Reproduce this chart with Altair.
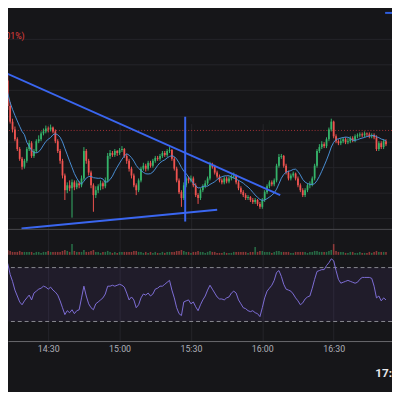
import altair as alt
import pandas as pd
import numpy as np

# ---------------- data ----------------
# 1-minute candles starting 14:12
first_open = 2011.4
close = [2016.2, 2013.6, 2012.0, 2011.2, 2010.2, 2009.2, 2008.2, 2007.4, 2008.0, 2009.2,
         2009.8, 2008.5, 2009.0, 2010.0, 2010.2, 2010.8, 2011.0, 2011.3, 2011.2, 2011.4,
         2011.0, 2010.0, 2009.0, 2008.0, 2006.5, 2005.0, 2005.5, 2005.2, 2005.8, 2005.3,
         2005.7, 2005.5, 2006.2, 2009.0, 2008.0, 2006.8, 2005.5, 2004.5, 2005.0, 2005.4,
         2005.7, 2005.4, 2006.0, 2008.5, 2008.8, 2008.6, 2009.0, 2008.8, 2009.1, 2009.2,
         2008.5, 2008.0, 2007.2, 2006.5, 2005.5, 2005.0, 2006.0, 2007.2, 2007.5, 2007.2,
         2007.8, 2007.5, 2008.0, 2008.3, 2008.2, 2008.5, 2008.8, 2008.6, 2009.0, 2009.1,
         2008.2, 2007.2, 2006.0, 2004.8, 2004.2, 2005.5, 2006.2, 2006.0, 2006.2, 2005.5,
         2004.5, 2004.2, 2005.0, 2005.4, 2005.7, 2006.2, 2007.6, 2007.4, 2006.8, 2006.4,
         2006.0, 2005.8, 2006.2, 2005.9, 2006.2, 2006.4, 2006.5, 2005.8, 2005.2, 2004.8,
         2004.5, 2004.2, 2004.3, 2004.0, 2003.8, 2004.0, 2003.6, 2003.3, 2004.0, 2004.8,
         2005.4, 2005.8, 2005.6, 2006.0, 2007.5, 2008.4, 2008.5, 2007.5, 2006.8, 2006.2,
         2006.5, 2006.7, 2006.2, 2005.5, 2005.0, 2004.5, 2005.0, 2005.5, 2005.6, 2006.2,
         2007.5, 2009.0, 2009.4, 2009.7, 2009.5, 2010.2, 2011.2, 2012.0, 2010.5, 2010.0,
         2009.8, 2010.0, 2010.2, 2009.9, 2010.0, 2010.3, 2010.1, 2010.5, 2010.6, 2010.7,
         2010.6, 2010.8, 2010.7, 2010.5, 2010.6, 2010.4, 2009.2, 2009.8, 2009.4, 2010.0,
         2009.7]
high = [2016.6, 2016.8, 2014.0, 2012.3, 2011.5, 2010.4, 2009.4, 2008.4, 2008.2, 2009.4,
        2010.1, 2010.0, 2009.2, 2010.2, 2010.6, 2011.0, 2011.3, 2011.6, 2011.5, 2011.7,
        2011.5, 2011.2, 2010.2, 2009.2, 2008.2, 2006.7, 2005.8, 2006.0, 2006.1, 2006.0,
        2006.0, 2005.9, 2006.5, 2009.4, 2009.2, 2008.2, 2007.0, 2005.7, 2005.4, 2005.6,
        2006.0, 2005.9, 2006.3, 2008.8, 2009.1, 2009.0, 2009.2, 2009.1, 2009.3, 2009.5,
        2009.3, 2008.7, 2008.2, 2007.4, 2006.7, 2005.7, 2006.2, 2007.4, 2007.8, 2007.7,
        2008.0, 2008.0, 2008.2, 2008.5, 2008.5, 2008.7, 2009.0, 2009.0, 2009.2, 2009.4,
        2009.2, 2008.4, 2007.4, 2006.2, 2005.0, 2005.8, 2006.4, 2006.4, 2006.5, 2006.4,
        2005.7, 2004.7, 2005.2, 2005.6, 2006.0, 2006.4, 2007.9, 2007.8, 2007.6, 2007.0,
        2006.6, 2006.2, 2006.4, 2006.4, 2006.4, 2006.6, 2006.8, 2006.6, 2006.0, 2005.4,
        2005.0, 2004.7, 2004.5, 2004.4, 2004.2, 2004.2, 2004.1, 2003.8, 2004.2, 2005.0,
        2005.6, 2006.0, 2006.0, 2006.2, 2007.7, 2008.7, 2008.7, 2008.6, 2007.7, 2007.0,
        2006.7, 2006.9, 2006.8, 2006.4, 2005.7, 2005.2, 2005.2, 2005.7, 2005.9, 2006.4,
        2007.7, 2009.2, 2009.7, 2010.0, 2009.9, 2010.4, 2011.4, 2012.3, 2012.1, 2010.7,
        2010.2, 2010.3, 2010.4, 2010.4, 2010.3, 2010.5, 2010.5, 2010.7, 2010.8, 2010.9,
        2010.9, 2011.0, 2010.9, 2010.9, 2010.8, 2010.8, 2010.6, 2010.0, 2010.0, 2010.2,
        2010.2]
low = [2011.2, 2013.2, 2011.8, 2010.9, 2010.0, 2009.0, 2008.0, 2007.1, 2007.2, 2007.8,
       2009.0, 2008.3, 2008.3, 2008.8, 2009.8, 2010.0, 2010.6, 2010.8, 2010.9, 2011.0,
       2010.8, 2009.8, 2008.8, 2007.7, 2006.2, 2004.0, 2004.7, 2004.9, 2002.2, 2005.0,
       2005.1, 2005.2, 2005.3, 2006.0, 2007.7, 2006.5, 2005.2, 2002.8, 2004.2, 2004.7,
       2005.0, 2005.1, 2005.2, 2005.8, 2008.2, 2008.4, 2008.4, 2008.5, 2008.6, 2008.9,
       2008.3, 2007.7, 2006.9, 2006.2, 2005.3, 2004.5, 2004.8, 2005.8, 2007.0, 2006.9,
       2007.0, 2007.3, 2007.3, 2007.8, 2008.0, 2008.0, 2008.3, 2008.4, 2008.4, 2008.8,
       2008.0, 2007.0, 2005.8, 2004.6, 2003.3, 2004.0, 2005.3, 2005.7, 2005.8, 2005.3,
       2004.3, 2003.6, 2004.0, 2004.8, 2005.2, 2005.5, 2006.0, 2007.2, 2006.6, 2006.2,
       2005.8, 2005.6, 2005.6, 2005.7, 2005.7, 2006.0, 2006.2, 2005.6, 2005.0, 2004.6,
       2004.3, 2004.0, 2004.0, 2003.8, 2003.6, 2003.6, 2003.4, 2003.1, 2003.1, 2003.8,
       2004.6, 2005.2, 2005.4, 2005.4, 2005.8, 2007.3, 2008.2, 2007.3, 2006.6, 2006.0,
       2006.0, 2006.3, 2006.0, 2005.3, 2004.8, 2004.3, 2004.3, 2004.8, 2005.2, 2005.4,
       2006.0, 2007.3, 2008.8, 2009.2, 2009.3, 2009.3, 2010.0, 2011.0, 2010.3, 2009.8,
       2009.6, 2009.6, 2009.8, 2009.7, 2009.7, 2009.8, 2009.9, 2009.9, 2010.3, 2010.4,
       2010.4, 2010.4, 2010.5, 2010.3, 2010.3, 2010.2, 2009.0, 2009.0, 2009.2, 2009.2,
       2009.5]
rsi = [75.1, 72.9, 64.9, 59.8, 53.3, 48.9, 44.5, 42.4, 45.3, 47.5,
       49.6, 46.0, 51.1, 52.5, 54.0, 54.7, 56.2, 55.5, 54.0, 55.5,
       53.3, 51.8, 49.6, 45.3, 40.2, 35.1, 38.0, 36.5, 38.7, 35.8,
       38.0, 38.7, 47.5, 56.2, 48.9, 43.1, 40.2, 38.7, 43.1, 44.5,
       46.0, 47.5, 50.4, 56.2, 56.2, 56.9, 56.2, 56.9, 57.6, 56.9,
       55.5, 51.1, 46.0, 48.2, 46.0, 40.2, 42.4, 47.5, 50.4, 49.6,
       51.1, 48.9, 50.4, 54.0, 54.7, 56.2, 56.2, 57.6, 59.1, 60.5,
       53.3, 47.5, 40.2, 35.8, 34.4, 44.5, 45.3, 46.0, 43.1, 44.5,
       40.9, 38.0, 42.4, 46.0, 48.9, 53.3, 56.9, 54.0, 51.1, 48.2,
       46.7, 46.7, 46.0, 47.5, 48.2, 51.1, 52.5, 51.1, 46.0, 43.1,
       40.2, 39.5, 38.0, 37.3, 38.0, 36.5, 35.8, 33.6, 40.2, 47.5,
       52.5, 54.7, 56.9, 60.5, 66.4, 67.8, 63.5, 57.6, 54.0, 53.3,
       52.5, 50.4, 47.5, 45.3, 42.4, 43.8, 46.7, 48.2, 48.9, 54.7,
       61.3, 67.1, 67.8, 68.5, 68.5, 71.5, 73.6, 76.5, 75.1, 67.8,
       61.3, 58.4, 59.1, 59.8, 60.5, 59.8, 59.1, 58.4, 59.1, 61.3,
       62.7, 62.7, 62.7, 62.7, 62.0, 56.2, 47.5, 48.9, 45.3, 47.5,
       46.0]
volume = [4, 5, 4, 3, 3, 3, 4, 3, 3, 3,
          3, 3, 2, 3, 3, 2, 3, 3, 4, 3,
          3, 3, 3, 3, 4, 5, 4, 3, 11, 4,
          3, 3, 3, 5, 3, 3, 4, 5, 3, 3,
          2, 3, 3, 4, 3, 2, 3, 2, 3, 3,
          3, 3, 3, 3, 4, 4, 3, 3, 2, 3,
          2, 3, 2, 3, 2, 2, 3, 2, 3, 3,
          3, 3, 4, 4, 5, 4, 3, 3, 2, 3,
          3, 4, 3, 3, 2, 3, 4, 3, 3, 2,
          2, 2, 3, 2, 2, 2, 3, 3, 3, 3,
          3, 3, 2, 3, 3, 8, 3, 4, 4, 3,
          3, 3, 2, 3, 4, 4, 3, 3, 3, 3,
          2, 2, 3, 3, 3, 3, 3, 2, 3, 3,
          4, 4, 3, 3, 3, 3, 4, 5, 11, 4,
          3, 3, 3, 2, 2, 3, 3, 2, 2, 3,
          2, 2, 2, 3, 2, 3, 4, 3, 3, 3,
          3]

price_grid = [2020.4, 2017.8, 2015.2, 2012.5, 2009.9, 2007.3, 2004.7, 2002.1]
prev_close_level = [2011.1]
rsi_bands = [70, 30]
trend_t1 = ["2024-01-02T14:12:44", "2024-01-02T14:18:46"]
trend_p1 = [2016.9, 2001.1]
trend_t2 = ["2024-01-02T16:07:32", "2024-01-02T15:41:02"]
trend_p2 = [2004.5, 2003.0]
vline_t = ["2024-01-02T15:27:35"]
vline_p1 = [2012.5]
vline_p2 = [2001.8]
time_ticks = [(14, 30), (15, 0), (15, 30), (16, 0), (16, 30)]

# ---------------- build tables ----------------
start = pd.Timestamp("2024-01-02 14:12:00")
times = [(start + pd.Timedelta(minutes=i)).strftime("%Y-%m-%dT%H:%M:%S") for i in range(len(close))]
df = pd.DataFrame({"t": times, "close": close, "high": high, "low": low,
                   "rsi": rsi, "volume": volume})
df["open"] = [first_open] + close[:-1]
df["high"] = df[["high", "open", "close"]].max(axis=1)
df["low"] = df[["low", "open", "close"]].min(axis=1)
df["dir"] = np.where(df["close"] >= df["open"], "up", "down")

trend = pd.DataFrame({"t1": trend_t1, "p1": trend_p1, "t2": trend_t2, "p2": trend_p2})
vline = pd.DataFrame({"t": vline_t, "p1": vline_p1, "p2": vline_p2})
grid_df = pd.DataFrame({"p": price_grid})
prev_df = pd.DataFrame({"p": prev_close_level})
band_df = pd.DataFrame({"r": rsi_bands})
band_rect = pd.DataFrame({"r1": [rsi_bands[0]], "r2": [rsi_bands[1]]})

# ---------------- style ----------------
BG = "#161619"
GRID = "#25252a"
UP = "#35b36a"
DOWN = "#ef5350"
BLUE = "#3a66f0"
W, H = 392, 336

dt = lambda h, m, s=0: alt.DateTime(year=2024, month=1, date=2, hours=h, minutes=m, seconds=s)
xscale = alt.Scale(domain=[dt(14, 15, 9), dt(16, 52, 28)])
xaxis = alt.Axis(values=[dt(h, m) for h, m in time_ticks], format="%H:%M",
                 labelColor="#aeb0b8", labelFontSize=9, labelFont="Roboto",
                 labelPadding=4, ticks=False, grid=True, gridColor=GRID, gridWidth=1,
                 domain=True, domainColor="#6a6a70", domainWidth=1, title=None,
                 labelOverlap=False, labelFlush=False)
X = alt.X("t:T", scale=xscale, axis=xaxis)

pscale = alt.Scale(domain=[2001.0, 2023.2], range=[222, 0], zero=False, nice=False)
rscale = alt.Scale(domain=[30, 70], range=[316, 261], zero=False, nice=False)
vscale = alt.Scale(domain=[0, 11], range=[248, 237], zero=False, nice=False)
dir_color = alt.Color("dir:N", scale=alt.Scale(domain=["up", "down"], range=[UP, DOWN]), legend=None)

base = alt.Chart(df)

axis_layer = base.mark_rule(opacity=0).encode(x=X)

band = alt.Chart(band_rect).mark_rect(color="#7e57c2", opacity=0.10).encode(
    x=alt.value(0), x2=alt.value(W),
    y=alt.Y("r1:Q", scale=rscale, axis=None), y2="r2:Q")

pgrid = alt.Chart(grid_df).mark_rule(color=GRID, strokeWidth=1).encode(
    y=alt.Y("p:Q", scale=pscale, axis=None))

prev_line = alt.Chart(prev_df).mark_rule(color="#b8363a", strokeWidth=1, strokeDash=[1, 2], opacity=0.9).encode(
    y=alt.Y("p:Q", scale=pscale, axis=None))

wicks = base.mark_rule(strokeWidth=1, clip=True).encode(
    x=X, y=alt.Y("low:Q", scale=pscale, axis=None), y2="high:Q", color=dir_color)

bodies = base.mark_bar(size=1.8, clip=True).encode(
    x=X, y=alt.Y("open:Q", scale=pscale, axis=None), y2="close:Q", color=dir_color)

ma = base.transform_window(
    ma="mean(close)", frame=[-8, 0], sort=[alt.SortField("t")]
).mark_line(color="#4a8fd6", strokeWidth=1, clip=True).encode(
    x=X, y=alt.Y("ma:Q", scale=pscale, axis=None))

trend_lines = alt.Chart(trend).mark_rule(color=BLUE, strokeWidth=2, clip=True).encode(
    x=alt.X("t1:T", scale=xscale, axis=xaxis), x2="t2:T",
    y=alt.Y("p1:Q", scale=pscale, axis=None), y2="p2:Q")

vert = alt.Chart(vline).mark_rule(color=BLUE, strokeWidth=2, clip=True).encode(
    x=X, y=alt.Y("p1:Q", scale=pscale, axis=None), y2="p2:Q")

sep = alt.Chart(grid_df.head(1)).mark_rule(color="#4a4a50", strokeWidth=1).encode(
    x=alt.value(0), x2=alt.value(W), y=alt.value(222))

vol = base.mark_bar(size=1.6, opacity=0.55, clip=True).encode(
    x=X, y=alt.Y("volume:Q", scale=vscale, axis=None), y2=alt.datum(0), color=dir_color)

rsi_dash = alt.Chart(band_df).mark_rule(color="#8a8a92", strokeWidth=1, strokeDash=[4, 3]).encode(
    y=alt.Y("r:Q", scale=rscale, axis=None))

rsi_line = base.mark_line(color="#7f6fd8", strokeWidth=1, clip=True).encode(
    x=X, y=alt.Y("rsi:Q", scale=rscale, axis=None))

pct_text = alt.Chart(grid_df.head(1)).mark_text(
    text="(-0.01%)", color="#e0403f", fontSize=9, font="Roboto", align="right", baseline="middle"
).encode(x=alt.value(17), y=alt.value(25))

clock_text = alt.Chart(grid_df.head(1)).mark_text(
    text="17:10:25", color="#e8e8ec", fontSize=12, fontWeight="bold", font="Roboto",
    align="left", baseline="middle"
).encode(x=alt.value(375), y=alt.value(369))

btn = alt.Chart(grid_df.head(1)).mark_rect(color="#2f5fe0").encode(
    x=alt.value(385), x2=alt.value(W), y=alt.value(0), y2=alt.value(2))

chart = alt.layer(
    axis_layer, band, pgrid, prev_line, wicks, bodies, ma, trend_lines, vert, sep,
    vol, rsi_dash, rsi_line, pct_text, clock_text, btn
).resolve_scale(y="independent").properties(
    width=W, height=H, background=BG,
    autosize=alt.AutoSizeParams(type="none"),
    padding={"left": 0, "top": 0, "right": 0, "bottom": 48}
).configure_view(strokeWidth=0)

chart.save("out.html", embed_options={"renderer": "svg", "actions": False})
